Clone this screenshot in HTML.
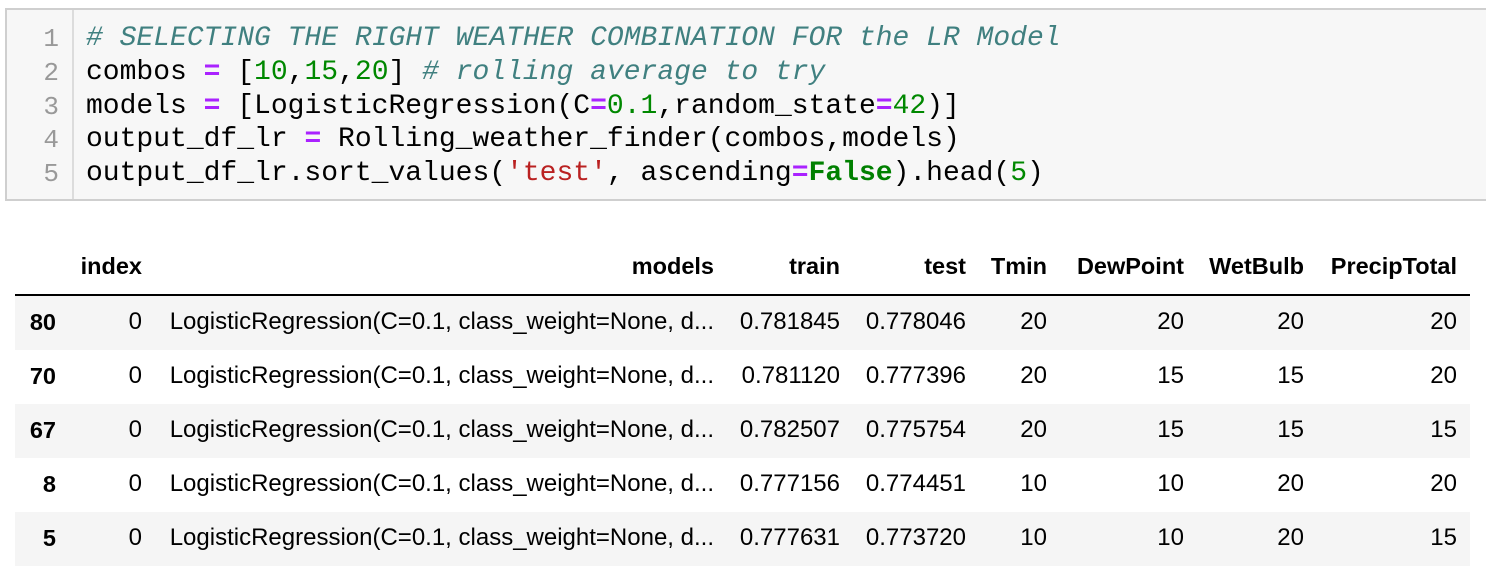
<!DOCTYPE html>
<html><head><meta charset="utf-8"><style>
body{margin:0;width:1486px;height:562px;background:#fff;position:relative;overflow:hidden}
#code{position:absolute;left:5px;top:8px;width:1490px;height:193px;background:#f7f7f7;border:2px solid #cfcfcf;box-sizing:border-box}
#gutter{position:absolute;left:65px;top:0;width:2px;height:100%;background:#dcdcdc}
.ln{position:absolute;left:0;width:52px;text-align:right;font:26px "Liberation Mono",monospace;color:#999}
.cl{position:absolute;left:79px;font:28px "Liberation Mono",monospace;color:#000;white-space:pre}
.cm{color:#408080;font-style:italic}.op{color:#aa22ff;font-weight:bold}.nu{color:#008800}.st{color:#ba2121}.kw{color:#008000;font-weight:bold}
.t{position:absolute;font:24px "Liberation Sans",Arial,sans-serif;color:#000;white-space:nowrap}
.h{font-weight:bold;font-size:23.5px}
.stripe{position:absolute;left:15px;width:1455px;height:54px;background:#f5f5f5}
</style></head><body>
<div id="code">
<div id="gutter"></div>
<div class="ln" style="top:14px">1</div>
<div class="ln" style="top:48px">2</div>
<div class="ln" style="top:82px">3</div>
<div class="ln" style="top:115px">4</div>
<div class="ln" style="top:149px">5</div>
<div class="cl" style="top:13px"><span class="cm"># SELECTING THE RIGHT WEATHER COMBINATION FOR the LR Model</span></div>
<div class="cl" style="top:47px">combos <span class="op">=</span> [<span class="nu">10</span>,<span class="nu">15</span>,<span class="nu">20</span>] <span class="cm"># rolling average to try</span></div>
<div class="cl" style="top:81px">models <span class="op">=</span> [LogisticRegression(C<span class="op">=</span><span class="nu">0.1</span>,random_state<span class="op">=</span><span class="nu">42</span>)]</div>
<div class="cl" style="top:114px">output_df_lr <span class="op">=</span> Rolling_weather_finder(combos,models)</div>
<div class="cl" style="top:148px">output_df_lr.sort_values(<span class="st">'test'</span>, ascending<span class="op">=</span><span class="kw">False</span>).head(<span class="nu">5</span>)</div>
</div>
<div id="table"></div>
<script>
const headers=["index","models","train","test","Tmin","DewPoint","WetBulb","PrecipTotal"];
const rowLabels=["80","70","67","8","5"];
const indexCol=["0","0","0","0","0"];
const modelsCol=["LogisticRegression(C=0.1, class_weight=None, d...","LogisticRegression(C=0.1, class_weight=None, d...","LogisticRegression(C=0.1, class_weight=None, d...","LogisticRegression(C=0.1, class_weight=None, d...","LogisticRegression(C=0.1, class_weight=None, d..."];
const trainCol=["0.781845","0.781120","0.782507","0.777156","0.777631"];
const testCol=["0.778046","0.777396","0.775754","0.774451","0.773720"];
const tminCol=["20","20","20","10","10"];
const dewCol=["20","15","15","10","10"];
const wetCol=["20","15","15","20","20"];
const precipCol=["20","20","15","20","15"];
const rightEdges=[142,714,840,966,1047,1184,1304,1457];
const cols=[indexCol,modelsCol,trainCol,testCol,tminCol,dewCol,wetCol,precipCol];
const tb=document.getElementById('table');
function add(txt,right,top,cls,name){
 const d=document.createElement('div');d.className='t '+cls;d.textContent=txt;
 d.style.right=(1486-right)+'px';d.style.top=top+'px';
 
 
 tb.appendChild(d);}
headers.forEach((h,i)=>add(h,rightEdges[i],253,'h','header-'+h.toLowerCase()));
const line=document.createElement('div');
line.style.cssText='position:absolute;left:15px;top:294px;width:1455px;height:2px;background:#000';


tb.appendChild(line);
rowLabels.forEach((r,ri)=>{
 const top=296+ri*54;
 if(ri%2===0){const s=document.createElement('div');s.className='stripe';s.style.top=top+'px';
  
  
  tb.appendChild(s);}
 add(r,56,top+13,'h','row-label-'+r);
 cols.forEach((c,ci)=>add(c[ri],rightEdges[ci],top+12,'','cell-'+r+'-'+headers[ci].toLowerCase()));
});
</script>
</body></html>
